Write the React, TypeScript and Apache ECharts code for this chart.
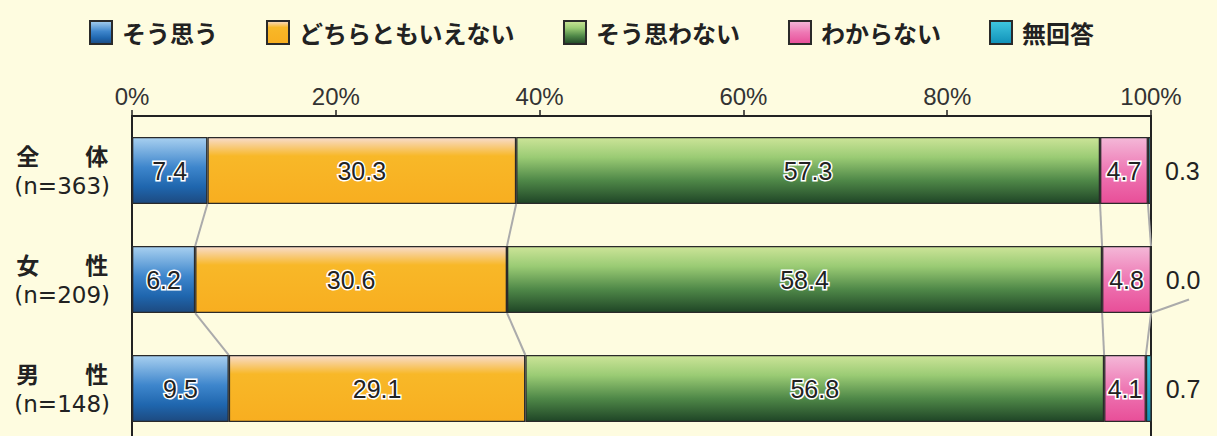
import React, { useEffect, useRef } from "react";
import * as echarts from "echarts";

const categories = ["全　　体", "女　　性", "男　　性"];
const sampleSizes = [363, 209, 148];
const seriesNames = ["そう思う", "どちらともいえない", "そう思わない", "わからない", "無回答"];
const agree = [7.4, 6.2, 9.5];
const neutral = [30.3, 30.6, 29.1];
const disagree = [57.3, 58.4, 56.8];
const unknown = [4.7, 4.8, 4.1];
const noAnswer = [0.3, 0.0, 0.7];
const xTicks = [0, 20, 40, 60, 80, 100];

const BAR_W = 67;

const grad = (stops: [number, string][]) =>
  new echarts.graphic.LinearGradient(
    0, 0, 0, 1,
    stops.map(([offset, color]) => ({ offset, color }))
  );

const fills = [
  grad([[0, "#A8D0F0"], [0.45, "#3E86CC"], [0.75, "#1F66AE"], [1, "#1D4A80"]]),
  grad([[0, "#F8DCCC"], [0.28, "#F8B828"], [1, "#F8AE20"]]),
  grad([[0, "#CCE498"], [0.3, "#9ACB74"], [0.65, "#4F8848"], [1, "#1F4526"]]),
  grad([[0, "#F4B8D8"], [0.5, "#EE78B4"], [1, "#E84E98"]]),
  grad([[0, "#40C8E0"], [1, "#1090B8"]]),
];

export default function App() {
  const ref = useRef<HTMLDivElement>(null);

  useEffect(() => {
    if (!ref.current) return;
    const chart = echarts.init(ref.current, undefined, { renderer: "svg" });
    const all = [agree, neutral, disagree, unknown, noAnswer];

    // cumulative boundaries for connectors
    const cums = categories.map((_, r) => {
      let s = 0;
      return all.slice(0, 4).map((arr) => (s += arr[r]));
    });
    const connData: number[][] = [];
    for (let r = 0; r < categories.length - 1; r++) {
      for (let k = 0; k < 4; k++) {
        connData.push([Math.min(cums[r][k], 100), Math.min(cums[r + 1][k], 100), r]);
      }
    }

    const barSeries = all.map((arr, i) => ({
      name: seriesNames[i],
      type: "bar",
      stack: "total",
      barWidth: BAR_W,
      data: arr,
      itemStyle: { color: fills[i], borderColor: "#2A2A2A", borderWidth: 1.3 },
      label:
        i < 4
          ? {
              show: true,
              position: "inside",
              formatter: (p: any) => p.value.toFixed(1),
              fontFamily: "Liberation Sans",
              fontSize: 25,
              color: "#222",
              textBorderColor: "#fff",
              textBorderWidth: 3,
            }
          : {
              show: true,
              position: "right",
              distance: 14,
              formatter: (p: any) => p.value.toFixed(1),
              fontFamily: "Liberation Sans",
              fontSize: 25,
              color: "#222",
            },
      emphasis: { disabled: true },
    }));

    chart.setOption({
      animation: false,
      backgroundColor: "#FEFCE0",
      legend: {
        top: 15,
        left: 84,
        icon: "rect",
        itemWidth: 22,
        itemHeight: 23,
        itemGap: 48,
        data: seriesNames,
        textStyle: {
          fontFamily: "Noto Sans CJK JP",
          fontSize: 24,
          fontWeight: "bold",
          color: "#222",
          padding: [0, 0, 0, 5],
        },
      },
      grid: { left: 132, right: 66, top: 116, bottom: 0 },
      xAxis: {
        type: "value",
        position: "top",
        min: xTicks[0],
        max: xTicks[xTicks.length - 1],
        interval: 20,
        axisLine: { show: true, lineStyle: { color: "#222", width: 2 } },
        axisTick: { show: true, length: 6, lineStyle: { color: "#222", width: 1.5 } },
        axisLabel: {
          formatter: "{value}%",
          fontFamily: "Liberation Sans",
          fontSize: 24,
          color: "#333",
          margin: 8,
        },
        splitLine: { show: false },
      },
      yAxis: [
        {
          type: "category",
          inverse: true,
          data: categories,
          axisLine: { show: true, lineStyle: { color: "#222", width: 2 } },
          axisTick: { show: false },
          axisLabel: {
            margin: 22,
            formatter: (v: string, idx: number) => `{a|${v}}\n{b|(n=${sampleSizes[idx]})}`,
            rich: {
              a: {
                fontFamily: "Noto Sans CJK JP",
                fontWeight: "bold",
                fontSize: 23,
                color: "#222",
                lineHeight: 31,
                align: "center",
              },
              b: {
                fontFamily: "DejaVu Sans",
                fontSize: 23,
                color: "#222",
                lineHeight: 31,
                align: "center",
              },
            },
          },
        },
        {
          type: "category",
          inverse: true,
          position: "right",
          data: categories,
          axisLine: { show: true, lineStyle: { color: "#222", width: 2 } },
          axisTick: { show: false },
          axisLabel: { show: false },
        },
      ],
      series: [
        {
          type: "custom",
          silent: true,
          z: 1,
          encode: { x: [0, 1], y: 2 },
          data: connData,
          renderItem: (params: any, api: any) => {
            const r = api.value(2);
            const p1 = api.coord([api.value(0), r]);
            const p2 = api.coord([api.value(1), r + 1]);
            return {
              type: "line",
              shape: { x1: p1[0], y1: p1[1] + BAR_W / 2, x2: p2[0], y2: p2[1] - BAR_W / 2 },
              style: { stroke: "#ABABAB", lineWidth: 2 },
            };
          },
        },
        {
          type: "custom",
          silent: true,
          z: 1,
          encode: { x: 0, y: 1 },
          data: [[100, 1]],
          renderItem: (params: any, api: any) => {
            const p = api.coord([api.value(0), api.value(1)]);
            return {
              type: "line",
              shape: { x1: p[0], y1: p[1] + BAR_W / 2, x2: p[0] + 38, y2: p[1] + 20 },
              style: { stroke: "#ABABAB", lineWidth: 2 },
            };
          },
        },
        ...barSeries,
      ],
    });

    return () => chart.dispose();
  }, []);

  return (
    <div
      ref={ref}
      style={{ position: "fixed", left: 0, top: 0, width: 1217, height: 443 }}
    />
  );
}
